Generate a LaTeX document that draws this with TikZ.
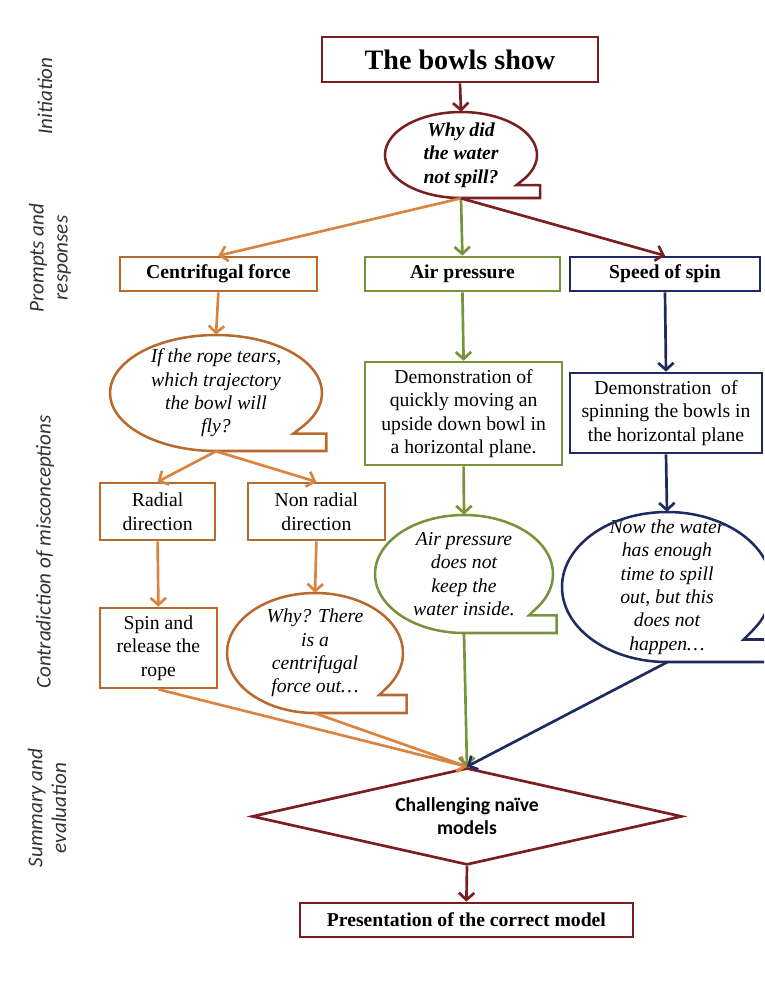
\documentclass[tikz,border=0pt]{standalone}
\usepackage{fontspec}
\setmainfont{Liberation Serif}
\newfontfamily\calfont{Carlito}
\usetikzlibrary{shapes.geometric,arrows.meta}
\definecolor{bowlred}{RGB}{122,30,32}
\definecolor{rope}{RGB}{184,106,46}
\definecolor{ropearrow}{RGB}{218,132,66}
\definecolor{leaf}{RGB}{119,147,60}
\definecolor{navy}{RGB}{31,42,96}
\tikzset{my box/.style={
  draw=#1,
  line width=1.9pt,
  inner sep=0pt,
  align=center
  }
}
\tikzset{my arrow/.style={
  #1,
  line width=1.9pt,
  -{Straight Barb[length=5pt,width=11pt]}
  }
}
\tikzset{my bubble/.style={
  inner sep=0pt,
  align=center,
  font=\fontsize{14}{16.6}\selectfont\itshape
  }
}
\tikzset{stage/.style={
  rotate=90,
  align=center,
  text=black!80,
  font=\calfont\itshape\fontsize{15}{17}\selectfont
  }
}
\newcommand{\bubbleline}[4]{
  \draw[#4, line width=1.8pt] (#1.center) ++(-35:#2cm and #3cm)
    arc[start angle=-35, end angle=270, x radius=#2cm, y radius=#3cm]
    -- ++({1.04*#2},0) -- ++(0,{0.3*#3}) -- ++({-0.31*#2},0) -- cycle;
}

\begin{document}
\begin{tikzpicture}
    \clip (0,0) rectangle (19.1,-24.9);

    \node[stage] (s1) at (1.125,-2.4) {Initiation};
    \node[stage] (s2) at (1.25,-6.45) {Prompts and\\ responses};
    \node[stage] (s3) at (1.125,-13.8) {Contradiction of misconceptions};
    \node[stage] (s4) at (1.175,-20.2) {Summary and\\ evaluation};

    \node[my box=bowlred, minimum width=6.9cm, minimum height=1.125cm, font=\fontsize{20}{24}\selectfont\bfseries] (show) at (11.5,-1.49) {The bowls show};

    \node[my bubble, minimum width=3.8cm, minimum height=2.15cm, font=\fontsize{14}{16.6}\selectfont\bfseries\itshape] (q1) at (11.525,-3.875) {Why did\\ the water\\ not spill?};
    \bubbleline{q1}{1.9}{1.075}{bowlred}

    \draw[my arrow=bowlred] (show.south) -- (q1.north);

    \foreach \name/\x/\w/\c/\t in {cf/5.46/4.925/rope/Centrifugal force, ap/11.56/4.875/leaf/Air pressure, sp/16.625/4.75/navy/Speed of spin}
        \node[my box=\c, minimum width=\w cm, minimum height=0.85cm, font=\fontsize{14}{16.6}\selectfont\bfseries] (\name) at (\x,-6.85) {\t};

    \draw[my arrow=ropearrow] (q1.south) -- (cf.north);
    \draw[my arrow=leaf] (q1.south) -- (ap.north);
    \draw[my arrow=bowlred] (q1.south) -- (sp.north);

    \node[my bubble, minimum width=5.3cm, minimum height=2.9cm] (q2) at (5.4,-9.825) {If the rope tears,\\ which trajectory\\ the bowl will\\ fly?};
    \bubbleline{q2}{2.65}{1.45}{rope}

    \node[my box=leaf, minimum width=4.925cm, minimum height=2.575cm, font=\fontsize{14}{16.6}\selectfont] (demo1) at (11.59,-10.34) {Demonstration of\\ quickly moving an\\ upside down bowl in\\ a horizontal plane.};
    \node[my box=navy, minimum width=4.8cm, minimum height=2cm, font=\fontsize{14}{16.6}\selectfont] (demo2) at (16.65,-10.325) {Demonstration\ \ of\\ spinning the bowls in\\ the horizontal plane};

    \draw[my arrow=ropearrow] (cf.south) -- (q2.north);
    \draw[my arrow=leaf] (ap.south) -- (demo1.north);
    \draw[my arrow=navy] (sp.south) -- (demo2.north);

    \node[my box=rope, minimum width=2.875cm, minimum height=1.425cm, font=\fontsize{14}{16.6}\selectfont] (radial) at (3.94,-12.79) {Radial\\ direction};
    \node[my box=rope, minimum width=3.425cm, minimum height=1.425cm, font=\fontsize{14}{16.6}\selectfont] (nonradial) at (7.91,-12.79) {Non radial\\ direction};

    \draw[my arrow=ropearrow] (q2.south) -- (radial.north);
    \draw[my arrow=ropearrow] (q2.south) -- (nonradial.north);

    \node[my box=rope, minimum width=2.925cm, minimum height=2cm, font=\fontsize{14}{16.6}\selectfont] (spin) at (3.96,-16.2) {Spin and\\ release the\\ rope};

    \node[my bubble, minimum width=4.4cm, minimum height=3cm] (q3) at (7.875,-16.325) {Why? There\\ is a\\ centrifugal\\ force out\ldots};
    \bubbleline{q3}{2.2}{1.5}{rope}

    \node[my bubble, minimum width=4.45cm, minimum height=2.95cm] (q4) at (11.6,-14.35) {Air pressure\\ does not\\ keep the\\ water inside.};
    \bubbleline{q4}{2.225}{1.475}{leaf}

    \node[my bubble, minimum width=5.25cm, minimum height=3.75cm] (q5) at (16.675,-14.675) {Now the water\\ has enough\\ time to spill\\ out, but this\\ does not\\ happen\ldots};
    \bubbleline{q5}{2.625}{1.875}{navy}

    \draw[my arrow=ropearrow] (radial.south) -- (spin.north);
    \draw[my arrow=ropearrow] (nonradial.south) -- (q3.north);
    \draw[my arrow=leaf] (demo1.south) -- (q4.north);
    \draw[my arrow=navy] (demo2.south) -- (q5.north);

    \node[draw=bowlred, diamond, aspect=4.43, line width=1.9pt, minimum width=10.75cm, minimum height=2.425cm, inner sep=0pt, align=center, font=\calfont\bfseries\fontsize{14}{16.6}\selectfont] (naive) at (11.675,-20.41) {Challenging naïve\\ models};

    \draw[my arrow=ropearrow] (spin.south) -- (naive.north);
    \draw[my arrow=ropearrow] (q3.south) -- (naive.north);
    \draw[my arrow=leaf] (q4.south) -- (naive.north);
    \draw[my arrow=navy] (q5.south) -- (naive.north);

    \node[my box=bowlred, minimum width=8.325cm, minimum height=0.85cm, font=\fontsize{14}{16.6}\selectfont\bfseries] (correct) at (11.66,-23.0) {Presentation of the correct model};

    \draw[my arrow=bowlred] (naive.south) -- (correct.north);
\end{tikzpicture}
\end{document}
